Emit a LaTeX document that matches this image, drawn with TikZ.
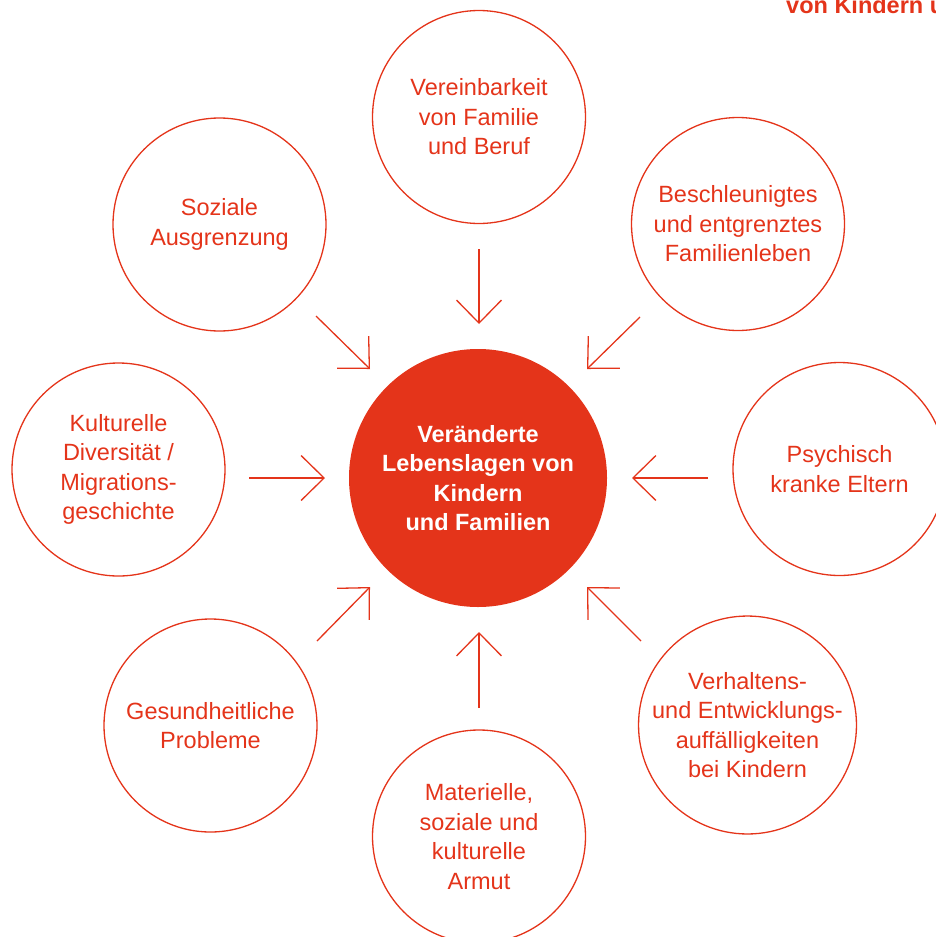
\documentclass[tikz,border=0pt]{standalone}
\usepackage{fontspec}
\setmainfont{Liberation Sans}
\usetikzlibrary{arrows.meta}
\definecolor{lbred}{HTML}{E4341A}
\begin{document}
\begin{tikzpicture}[x=1pt,y=-1pt,
  sat/.style={circle,draw=lbred,line width=1.3pt,minimum size=213pt,inner sep=0pt,
    text=lbred,align=center,font=\fontsize{23.5}{29.5}\selectfont},
  hub/.style={circle,fill=lbred,minimum size=258pt,inner sep=0pt,
    text=white,align=center,font=\bfseries\fontsize{23.5}{29.5}\selectfont},
  conn/.style={draw=lbred,line width=1.3pt,
    -{Straight Barb[length=23pt,width=45pt,line width=1.3pt]}}]
\useasboundingbox (0,0) rectangle (936,937);
\clip (0,0) rectangle (936,937);

\node[anchor=base west,text=lbred,inner sep=0pt,
  font=\bfseries\fontsize{23.5}{28}\selectfont] (title) at (786,13) {von Kindern und Familien};

\node[hub] (hub) at (478,478) {Veränderte\\Lebenslagen von\\Kindern\\und Familien};

\node[sat] (top)   at (479,117)   {Vereinbarkeit\\von Familie\\und Beruf};
\node[sat] (tr)    at (738,224)   {Beschleunigtes\\und entgrenztes\\Familienleben};
\node[sat] (right) at (839.5,469) {Psychisch\\kranke Eltern};
\node[sat] (br)    at (747.5,725) {Verhaltens-\\und Entwicklungs-\\auffälligkeiten\\bei Kindern};
\node[sat] (bot)   at (479,836.5) {Materielle,\\soziale und\\kulturelle\\Armut};
\node[sat] (bl)    at (210.5,725.5) {Gesundheitliche\\Probleme};
\node[sat] (left)  at (118.5,469.5) {Kulturelle\\Diversität /\\Migrations-\\geschichte};
\node[sat] (tl)    at (219.5,224.5) {Soziale\\Ausgrenzung};

% arrow end points
\coordinate (topS)   at (479,249);   \coordinate (topE)   at (479,324);
\coordinate (trS)    at (640,317);   \coordinate (trE)    at (587,369);
\coordinate (rightS) at (708,478);   \coordinate (rightE) at (632,478);
\coordinate (brS)    at (641,641);   \coordinate (brE)    at (587,587);
\coordinate (botS)   at (479,708);   \coordinate (botE)   at (479,632);
\coordinate (blS)    at (317,641);   \coordinate (blE)    at (370,587);
\coordinate (leftS)  at (249,478);   \coordinate (leftE)  at (325,478);
\coordinate (tlS)    at (316,316);   \coordinate (tlE)    at (370,369);

\draw[conn] (topS) -- (topE);
\draw[conn] (trS) -- (trE);
\draw[conn] (rightS) -- (rightE);
\draw[conn] (brS) -- (brE);
\draw[conn] (botS) -- (botE);
\draw[conn] (blS) -- (blE);
\draw[conn] (leftS) -- (leftE);
\draw[conn] (tlS) -- (tlE);
\end{tikzpicture}
\end{document}
